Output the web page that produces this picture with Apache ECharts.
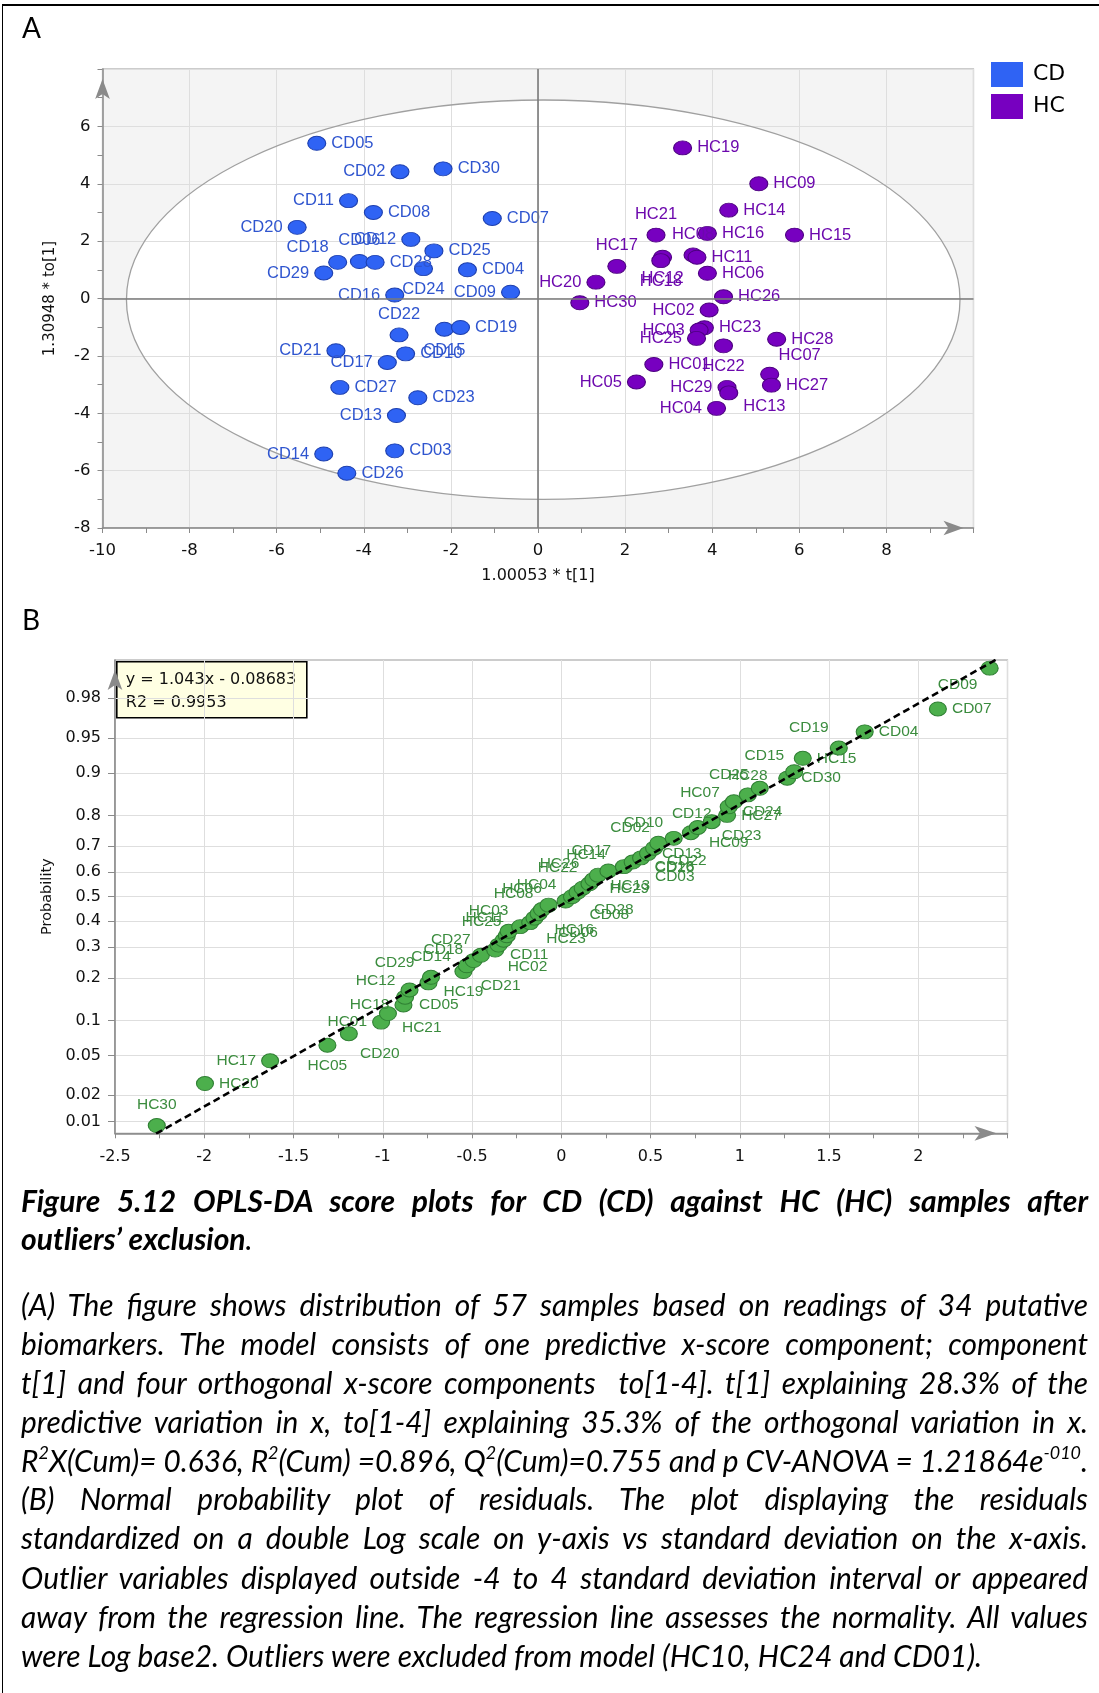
<!DOCTYPE html>
<html><head><meta charset="utf-8">
<script src="https://cdn.jsdelivr.net/npm/echarts@6/dist/echarts.min.js"></script>
<style>
html,body{margin:0;padding:0;width:1099px;height:1693px;overflow:hidden;background:#fff;}
#frame{position:absolute;left:2px;top:4px;width:1200px;height:1800px;border-top:2px solid #000;border-left:1.5px solid #000;}
#chart{position:absolute;left:0;top:0;width:1099px;height:1693px;}
.panel{position:absolute;left:22px;height:40px;line-height:40px;font-family:Lato,sans-serif;font-size:28px;color:#000;}
.ln{position:absolute;left:21px;width:1067px;height:40px;line-height:40px;font-family:Lato,sans-serif;font-size:30px;font-style:italic;color:#000;white-space:pre;}
.ln span{display:inline-block;transform-origin:0 50%;}
.b{font-weight:bold;font-size:30px;}
sup{font-size:0.6em;line-height:0;vertical-align:0.75em;}
</style></head>
<body>
<div id="frame"></div>
<div id="chart"></div>
<div class="panel" style="top:7px">A</div>
<div class="panel" style="top:599px">B</div>

<div class="ln b" data-p="cap" data-j="1" style="top:1180px"><span>Figure 5.12 OPLS-DA score plots for CD (CD) against HC (HC) samples after</span></div>
<div class="ln b" data-p="cap" data-j="0" style="top:1218px"><span>outliers’ exclusion<span style="font-weight:normal">.</span></span></div>

<div class="ln" data-p="body" data-j="1" style="top:1284px"><span>(A) The figure shows distribution of 57 samples based on readings of 34 putative</span></div>
<div class="ln" data-p="body" data-j="1" style="top:1323px"><span>biomarkers. The model consists of one predictive x-score component; component</span></div>
<div class="ln" data-p="body" data-j="1" style="top:1362px"><span>t[1] and four orthogonal x-score components  to[1-4]. t[1] explaining 28.3% of the</span></div>
<div class="ln" data-p="body" data-j="1" style="top:1401px"><span>predictive variation in x, to[1-4] explaining 35.3% of the orthogonal variation in x.</span></div>
<div class="ln" data-p="body" data-j="1" style="top:1440px"><span>R<sup>2</sup>X(Cum)= 0.636, R<sup>2</sup>(Cum) =0.896, Q<sup>2</sup>(Cum)=0.755 and p CV-ANOVA = 1.21864e<sup>-010</sup>.</span></div>
<div class="ln" data-p="body" data-j="1" style="top:1478px"><span>(B) Normal probability plot of residuals. The plot displaying the residuals</span></div>
<div class="ln" data-p="body" data-j="1" style="top:1517px"><span>standardized on a double Log scale on y-axis vs standard deviation on the x-axis.</span></div>
<div class="ln" data-p="body" data-j="1" style="top:1557px"><span>Outlier variables displayed outside -4 to 4 standard deviation interval or appeared</span></div>
<div class="ln" data-p="body" data-j="1" style="top:1596px"><span>away from the regression line. The regression line assesses the normality. All values</span></div>
<div class="ln" data-p="body" data-j="0" style="top:1635px"><span>were Log base2. Outliers were excluded from model (HC10, HC24 and CD01).</span></div>

<script>
// ---------------- DATA : panel A (OPLS-DA scores) ----------------
const cdLabels = ['CD05','CD02','CD30','CD11','CD08','CD07','CD20','CD12','CD25','CD18','CD06','CD28','CD29','CD24','CD04','CD16','CD09','CD22','CD15','CD19','CD10','CD21','CD17','CD27','CD23','CD13','CD03','CD14','CD26'];
const cdT1  = [-5.08,-3.17,-2.18,-4.35,-3.78,-1.05,-5.53,-2.92,-2.39,-4.60,-4.10,-3.74,-4.92,-2.63,-1.62,-3.29,-0.63,-3.19,-2.15,-1.78,-3.04,-4.64,-3.46,-4.55,-2.76,-3.25,-3.29,-4.92,-4.39];
const cdTo1 = [ 5.41, 4.42, 4.52, 3.41, 3.00, 2.79, 2.48, 2.06, 1.66, 1.26, 1.29, 1.26, 0.89, 1.04, 1.00, 0.12, 0.22,-1.27,-1.07,-1.01,-1.93,-1.82,-2.23,-3.10,-3.46,-4.08,-5.31,-5.42,-6.09];

const hcLabels = ['HC19','HC09','HC14','HC21','HC08','HC16','HC15','HC17','HC12','HC18','HC11','HC06','HC20','HC30','HC26','HC02','HC23','HC03','HC25','HC22','HC28','HC01','HC07','HC27','HC05','HC29','HC13','HC04'];
const hcT1  = [3.32,5.07,4.38,2.71,3.56,3.89,5.89,1.81,2.86,2.82,3.65,3.89,1.33,0.96,4.26,3.93,3.82,3.70,3.64,4.26,5.48,2.66,5.32,5.36,2.26,4.34,4.38,4.10];
const hcTo1 = [5.25,4.00,3.08,2.21,1.52,2.27,2.21,1.12,1.44,1.32,1.44,0.88,0.57,-0.15,0.06,-0.40,-1.02,-1.10,-1.39,-1.65,-1.42,-2.30,-2.64,-3.02,-2.91,-3.10,-3.29,-3.83];

// Hotelling T2 ellipse: centre t, centre to, half-width, half-height
const t2Ellipse = [[0.12, -0.04, 9.57, 6.96]];

// ---------------- DATA : panel B (normal probability of residuals) ----------------
const resLabels = ['HC30','HC20','HC17','HC05','CD20','HC01','HC21','HC18','CD05','HC12','CD29','CD14','HC19','CD21','HC02','CD11','CD18','CD27','HC25','HC11','HC03','HC23','CD06','HC16','HC08','HC06','HC04','CD08','CD28','HC29','HC22','HC26','HC13','HC14','CD17','CD03','CD16','CD22','CD13','CD02','CD10','CD26','HC09','CD23','CD12','HC27','CD24','HC07','CD25','HC28','CD30','CD15','HC15','CD19','CD04','CD07','CD09'];
const resStdDev = [-2.266,-1.996,-1.631,-1.310,-1.190,-1.009,-0.971,-0.884,-0.875,-0.850,-0.744,-0.730,-0.548,-0.529,-0.491,-0.450,-0.370,-0.351,-0.323,-0.305,-0.295,-0.230,-0.174,-0.150,-0.127,-0.108,-0.071,0.024,0.060,0.091,0.120,0.158,0.180,0.206,0.264,0.351,0.400,0.447,0.486,0.520,0.544,0.630,0.726,0.765,0.843,0.929,0.938,0.967,1.045,1.112,1.266,1.305,1.353,1.555,1.700,2.110,2.400];
const resProb = [0.0089,0.0265,0.0446,0.062,0.078,0.097,0.113,0.131,0.149,0.167,0.186,0.202,0.219,0.237,0.254,0.272,0.290,0.308,0.326,0.343,0.360,0.378,0.394,0.412,0.430,0.447,0.465,0.482,0.500,0.518,0.535,0.553,0.570,0.588,0.605,0.622,0.640,0.656,0.673,0.692,0.710,0.727,0.746,0.763,0.781,0.800,0.824,0.837,0.854,0.869,0.890,0.902,0.924,0.938,0.956,0.974,0.991];
const probTickLabels = ['0.01','0.02','0.05','0.1','0.2','0.3','0.4','0.5','0.6','0.7','0.8','0.9','0.95','0.98'];
const regSlope = 1.043, regIntercept = -0.08683, regR2 = 0.9953;
const regLineX = [-2.27, 2.45];

// ---------------- label placement (style only) ----------------
const aPos = {CD02:'left',CD11:'left',CD20:'left',CD12:'left',CD29:'left',CD16:'left',CD09:'left',CD21:'left',CD17:'left',CD13:'left',CD14:'left',
  CD18:'top',CD06:'top',CD22:'top',CD24:'bottom',CD15:'bottom',
  HC02:'left',HC03:'left',HC25:'left',HC05:'left',HC29:'left',HC04:'left',HC20:'left',
  HC21:'top',HC08:'top',HC17:'top',HC07:'top',HC12:'bottom',HC18:'bottom',HC22:'bottom'};
const aOff = {CD18:[-30,6],HC07:[30,2],HC13:[0,14]};
const bPos = {HC30:'top',HC20:'right',HC17:'left',HC05:'bottom',CD20:'bottom',HC01:'left',HC21:'right',HC18:'left',CD05:'right',HC12:'left',CD29:'left',CD14:'top',HC19:'bottom',CD21:'right',HC02:'right',CD11:'right',CD18:'left',CD27:'left',HC25:'top',HC11:'top',HC03:'top',HC23:'right',CD06:'right',HC16:'right',HC08:'top',HC06:'top',HC04:'top',CD08:'right',CD28:'right',HC29:'right',HC22:'top',HC26:'top',HC13:'right',HC14:'top',CD17:'top',CD03:'right',CD16:'right',CD22:'right',CD13:'right',CD02:'top',CD10:'top',CD26:'right',HC09:'right',CD23:'right',CD12:'top',HC27:'right',CD24:'right',HC07:'left',CD25:'top',HC28:'top',CD30:'right',CD15:'left',HC15:'right',CD19:'top',CD04:'right',CD07:'right',CD09:'bottom'};
const bOff = {CD20:[31,0],HC21:[0,14],CD05:[0,8],HC12:[0,-9],CD29:[0,-20],CD21:[0,20],HC02:[20,6],CD11:[15,-1],CD18:[-18,0],CD27:[-14,-5],HC25:[-22,2],HC11:[-22,2],HC03:[-20,0],HC23:[12,12],CD06:[14,10],HC16:[6,12],HC08:[-25,0],HC06:[-20,0],HC04:[-12,0],CD08:[10,14],CD28:[8,13],HC29:[18,-4],HC22:[-25,0],HC26:[-30,0],HC13:[3,6],HC14:[-12,0],CD17:[-17,0],CD03:[17,10],CD16:[8,5],CD22:[12,3],CD02:[-24,0],CD10:[-15,0],CD26:[-33,29],HC09:[4,10],CD23:[10,8],CD12:[-20,12],CD24:[0,5],HC07:[0,-9],CD25:[-19,0],HC28:[-12,8],CD15:[4,-16],CD19:[-30,0],CD09:[-32,-4]};

// inverse of the standard normal CDF (normal-probability axis scale)
function probit(p){
  const a=[-39.69683028665376,220.9460984245205,-275.9285104469687,138.3577518672690,-30.66479806614716,2.506628277459239];
  const b=[-54.47609879822406,161.5858368580409,-155.6989798598866,66.80131188771972,-13.28068155288572];
  const c=[-0.007784894002430293,-0.3223964580411365,-2.400758277161838,-2.549732539343734,4.374664141464968,2.938163982698783];
  const d=[0.007784695709041462,0.3224671290700398,2.445134137142996,3.754408661907416];
  const pl=0.02425;let q,r;
  if(p<pl){q=Math.sqrt(-2*Math.log(p));return (((((c[0]*q+c[1])*q+c[2])*q+c[3])*q+c[4])*q+c[5])/((((d[0]*q+d[1])*q+d[2])*q+d[3])*q+1);}
  if(p>1-pl){q=Math.sqrt(-2*Math.log(1-p));return -(((((c[0]*q+c[1])*q+c[2])*q+c[3])*q+c[4])*q+c[5])/((((d[0]*q+d[1])*q+d[2])*q+d[3])*q+1);}
  q=p-0.5;r=q*q;return (((((a[0]*r+a[1])*r+a[2])*r+a[3])*r+a[4])*r+a[5])*q/(((((b[0]*r+b[1])*r+b[2])*r+b[3])*r+b[4])*r+1);
}
const probTickZ = probTickLabels.map(s=>probit(parseFloat(s)));

const LBL = '"Liberation Sans", Arial, sans-serif';
const DJ = '"DejaVu Sans", sans-serif';

function mkPts(names, xs, ys, pos, off, color){
  return names.map((n,i)=>({name:n, value:[xs[i], ys[i]],
    label:{position: pos[n]||'right', offset: off[n]||[0,0], color}}));
}

const chart = echarts.init(document.getElementById('chart'), null, {renderer:'canvas'});
const axisGray = '#8a8a8a';
function baseAxis(extra){ return Object.assign({
  type:'value', z:1,
  axisLine:{show:true,onZero:false,lineStyle:{color:axisGray,width:1.5},symbol:['none','arrow'],symbolSize:[11,20],symbolOffset:[0,-10]},
  axisTick:{show:true,length:5,lineStyle:{color:axisGray,width:1}},
  axisLabel:{fontFamily:DJ,fontSize:16,color:'#111'},
  splitLine:{show:true,lineStyle:{color:'#dedede',width:1}}
}, extra); }

const option = {
  animation:false,
  grid:[
    {left:102.5, top:69, width:871, height:459, show:true, backgroundColor:'#f4f4f4', borderColor:'#9a9a9a', borderWidth:1.2, z:0},
    {left:115, top:660, width:892.5, height:473.3, show:true, backgroundColor:'#ffffff', borderColor:'#9a9a9a', borderWidth:1.2, z:0}
  ],
  legend:{data:['CD','HC'], left:991, top:62, padding:0, orient:'vertical', icon:'rect', itemWidth:32, itemHeight:25, itemGap:7,
    itemStyle:{borderWidth:0}, textStyle:{fontFamily:DJ, fontSize:22, color:'#000', padding:[0,0,0,5]}},
  xAxis:[
    baseAxis({gridIndex:0, min:-10, max:10, interval:2,
      minorTick:{show:true,splitNumber:2,length:5,lineStyle:{color:axisGray}},
      axisLabel:{fontFamily:DJ,fontSize:16.5,color:'#111',margin:14,formatter:v=>v>=10?'':String(v)},
      name:'1.00053 * t[1]', nameLocation:'middle', nameGap:40, nameTextStyle:{fontFamily:DJ,fontSize:16,color:'#111'}}),
    baseAxis({gridIndex:1, min:-2.5, max:2.5, interval:0.5,
      axisLine:{show:true,onZero:false,lineStyle:{color:axisGray,width:1.5},symbol:['none','arrow'],symbolSize:[11,22],symbolOffset:[0,-11]},
      minorTick:{show:true,splitNumber:2,length:5,lineStyle:{color:axisGray}},
      axisLabel:{fontFamily:DJ,fontSize:16,color:'#111',margin:16,formatter:v=>v>=2.5?'':String(v)}})
  ],
  yAxis:[
    baseAxis({gridIndex:0, min:-8, max:8, interval:2,
      minorTick:{show:true,splitNumber:2,length:5,lineStyle:{color:axisGray}},
      axisLabel:{fontFamily:DJ,fontSize:16.5,color:'#111',margin:12,formatter:v=>v>=8?'':String(v)},
      name:'1.30948 * to[1]', nameLocation:'middle', nameGap:45, nameTextStyle:{fontFamily:DJ,fontSize:15,color:'#111'}}),
    baseAxis({gridIndex:1, min:-2.45, max:2.45,
      axisTick:{show:true,length:7,customValues:probTickZ,lineStyle:{color:axisGray}},
      axisLabel:{customValues:probTickZ,fontFamily:DJ,fontSize:16,color:'#111',margin:14,
        formatter:v=>{const i=probTickZ.findIndex(z=>Math.abs(z-v)<1e-6);return i<0?'':probTickLabels[i];}},
      name:'Probability', nameLocation:'middle', nameGap:59, nameTextStyle:{fontFamily:DJ,fontSize:14.5,color:'#111'}})
  ],
  graphic:[
    {type:'group', left:116, top:661, z:50, children:[
      {type:'rect', shape:{x:0,y:0,width:190,height:56}, style:{fill:'#ffffe3',stroke:'#000',lineWidth:1.6}},
      {type:'text', x:9, y:10, style:{text:'y = '+regSlope+'x - '+Math.abs(regIntercept), font:'16px "DejaVu Sans"', fill:'#111'}},
      {type:'text', x:9, y:33, style:{text:'R2 = '+regR2, font:'16px "DejaVu Sans"', fill:'#111'}}
    ]}
  ],
  series:[
    {type:'custom', name:'T2 fill', xAxisIndex:0, yAxisIndex:0, z:0.5, silent:true, data:t2Ellipse,
      renderItem:(p,api)=>{const c=api.coord([api.value(0),api.value(1)]);const s=api.size([api.value(2),api.value(3)]);
        return {type:'ellipse',shape:{cx:c[0],cy:c[1],rx:s[0],ry:s[1]},style:{fill:'#ffffff',stroke:null}};}},
    {type:'custom', name:'T2 line', xAxisIndex:0, yAxisIndex:0, z:1.5, silent:true, data:t2Ellipse,
      renderItem:(p,api)=>{const c=api.coord([api.value(0),api.value(1)]);const s=api.size([api.value(2),api.value(3)]);
        return {type:'ellipse',shape:{cx:c[0],cy:c[1],rx:s[0],ry:s[1]},style:{fill:null,stroke:'#a0a0a0',lineWidth:1.3}};},
      markLine:{silent:true,symbol:'none',label:{show:false},lineStyle:{color:'#7a7a7a',width:1.6,type:'solid'},data:[{xAxis:0},{yAxis:0}]}},
    {type:'scatter', name:'CD', xAxisIndex:0, yAxisIndex:0, z:3, symbol:'circle', symbolSize:[18,14],
      itemStyle:{color:'#2f63f4',borderColor:'#1d3fae',borderWidth:1,opacity:1},
      label:{show:true,formatter:'{b}',fontFamily:LBL,fontSize:16.5,distance:5},
      data:mkPts(cdLabels,cdT1,cdTo1,aPos,aOff,'#2f55cf')},
    {type:'scatter', name:'HC', xAxisIndex:0, yAxisIndex:0, z:3, symbol:'circle', symbolSize:[18,14],
      itemStyle:{color:'#7700c0',borderColor:'#4d0080',borderWidth:1,opacity:1},
      label:{show:true,formatter:'{b}',fontFamily:LBL,fontSize:16.5,distance:5},
      data:mkPts(hcLabels,hcT1,hcTo1,aPos,aOff,'#6c08ad')},
    {type:'scatter', name:'Residuals', xAxisIndex:1, yAxisIndex:1, z:3, symbol:'circle', symbolSize:[17,14],
      itemStyle:{color:'#4caf4c',borderColor:'#2f7f33',borderWidth:1,opacity:1},
      label:{show:true,formatter:'{b}',fontFamily:LBL,fontSize:15.5,distance:5},
      data:mkPts(resLabels,resStdDev,resProb.map(probit),bPos,bOff,'#3b8c3e')},
    {type:'line', name:'Regression', xAxisIndex:1, yAxisIndex:1, z:4, silent:true, symbol:'none', clip:true,
      lineStyle:{color:'#000',width:2.6,type:[7,4]},
      data:regLineX.map(x=>[x, regSlope*x+regIntercept])}
  ]
};
chart.setOption(option);

// justify caption lines: one horizontal scale per paragraph, remaining space spread over word gaps
function justify(){
  const lines=[...document.querySelectorAll('.ln')];
  const info=lines.map(div=>{const span=div.firstElementChild;span.style.wordSpacing='0px';span.style.transform='';
    return {div,span,w:span.getBoundingClientRect().width,target:div.clientWidth,n:(span.textContent.match(/ /g)||[]).length};});
  const k={};
  info.forEach(o=>{const p=o.div.dataset.p;if(k[p]===undefined)k[p]=1;
    if(o.div.dataset.j==='1'&&o.w>o.target)k[p]=Math.min(k[p],o.target/o.w);});
  info.forEach(o=>{const kk=k[o.div.dataset.p];
    if(kk<1)o.span.style.transform='scaleX('+kk+')';
    if(o.div.dataset.j==='1'&&o.n){const extra=(o.target-kk*o.w)/kk/o.n;if(extra>0)o.span.style.wordSpacing=extra+'px';}
    else if(kk*o.w>o.target){o.span.style.transform='scaleX('+(o.target/o.w)+')';}
  });
}
justify();
if(document.fonts&&document.fonts.ready) document.fonts.ready.then(justify);
</script>
</body></html>
